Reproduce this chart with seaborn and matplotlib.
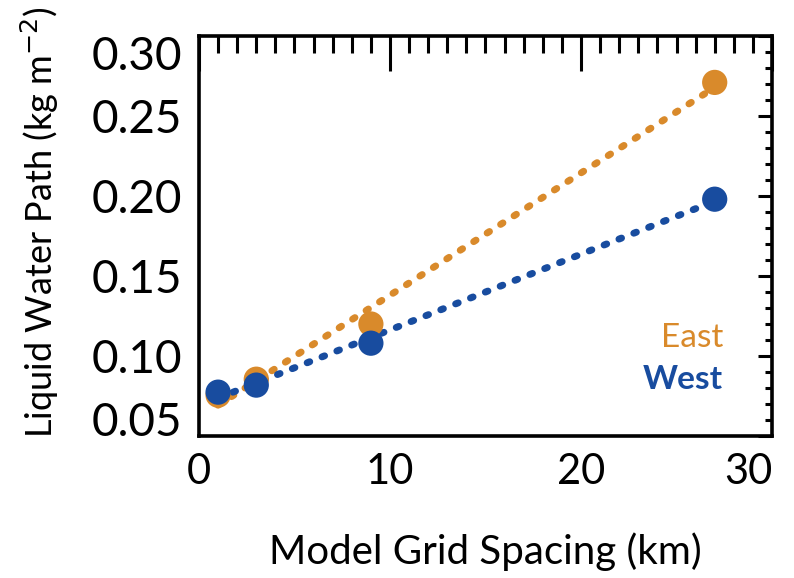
import numpy as np
import pandas as pd
import matplotlib
matplotlib.use("Agg")
import matplotlib.pyplot as plt
import seaborn as sns
from matplotlib.ticker import MultipleLocator, FormatStrFormatter

# Data
grid_spacing = [1, 3, 9, 27]  # km
east_lwp = [0.0755, 0.0855, 0.120, 0.271]
west_lwp = [0.0774, 0.0818, 0.108, 0.198]

EAST_COLOR = "#D98A2B"
WEST_COLOR = "#184C9F"

sns.set_theme(style="white")
plt.rcParams["font.family"] = ["Lato", "DejaVu Sans"]

df = pd.DataFrame({
    "dx": grid_spacing * 2,
    "lwp": east_lwp + west_lwp,
    "region": ["East"] * 4 + ["West"] * 4,
})

fig = plt.figure(figsize=(7.94, 5.78), dpi=100)
ax = fig.add_axes([0.2506, 0.2457, 0.7217, 0.692])

# linear fits drawn as dotted lines
line_kws = dict(lw=5, linestyle=(0, (0.4, 1.9)), dash_capstyle="round")
for name, color in [("East", EAST_COLOR), ("West", WEST_COLOR)]:
    sub = df[df.region == name]
    sns.regplot(data=sub, x="dx", y="lwp", ax=ax, scatter=False, ci=None,
                color=color, line_kws=line_kws)

sns.scatterplot(data=df, x="dx", y="lwp", hue="region",
                palette={"East": EAST_COLOR, "West": WEST_COLOR},
                s=330, edgecolor="none", legend=False, ax=ax, zorder=5)

ax.set_xlim(0, 30)
ax.set_ylim(0.05, 0.30)
ax.xaxis.set_major_locator(MultipleLocator(10))
ax.xaxis.set_minor_locator(MultipleLocator(1))
ax.yaxis.set_major_locator(MultipleLocator(0.05))
ax.yaxis.set_minor_locator(MultipleLocator(0.01))
ax.yaxis.set_major_formatter(FormatStrFormatter("%.2f"))

for s in ax.spines.values():
    s.set_color("black")
    s.set_linewidth(2.6)

ax.tick_params(axis="both", which="both", direction="in", top=True, right=True,
               color="black", width=2.2, labelcolor="black")
ax.tick_params(axis="x", which="major", length=25, pad=12, labelsize=30)
ax.tick_params(axis="x", which="minor", length=12)
ax.tick_params(axis="y", which="major", length=10, pad=12, labelsize=33)
ax.tick_params(axis="y", which="minor", length=5)

ax.set_xlabel("Model Grid Spacing (km)", fontsize=29, labelpad=30, color="black")
ax.set_ylabel("Liquid Water Path (kg m$^{-2}$)", fontsize=26, color="black")
ax.yaxis.set_label_coords(-0.24, 0.535)

ax.text(0.915, 0.245, "East", transform=ax.transAxes, ha="right", va="center",
        fontsize=24, color=EAST_COLOR)
ax.text(0.915, 0.14, "West", transform=ax.transAxes, ha="right", va="center",
        fontsize=24, color=WEST_COLOR, fontweight="bold")

# end labels on the y axis sit inside the frame, as in the reference
fig.canvas.draw()
for tick in ax.yaxis.get_major_ticks():
    loc = tick.get_loc()
    if abs(loc - 0.30) < 1e-6:
        tick.label1.set_va("top")
    elif abs(loc - 0.05) < 1e-6:
        tick.label1.set_va("baseline")
for tick in ax.xaxis.get_major_ticks():
    if abs(tick.get_loc() - 30) < 1e-6:
        tick.label1.set_ha("right")
        tick.label1.set_x(30)

fig.savefig("out.png", dpi=100)
